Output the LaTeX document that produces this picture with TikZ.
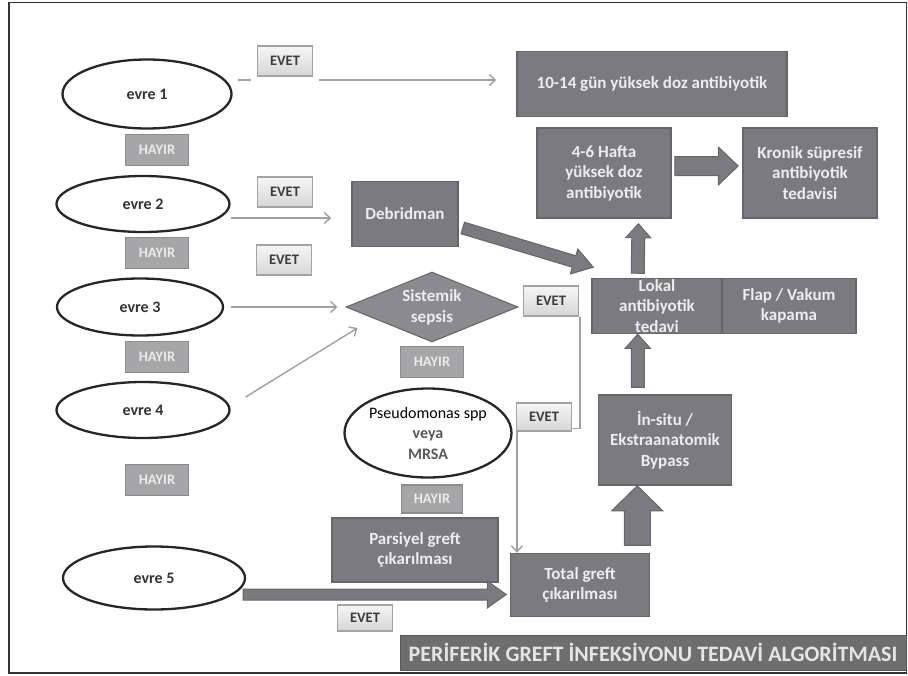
\documentclass[tikz,border=0pt]{standalone}
\usepackage{fontspec}
\setmainfont{Carlito}
\usetikzlibrary{shapes.geometric,arrows.meta,calc}
\pgfdeclarelayer{background}
\pgfsetlayers{background,main}
\definecolor{boxfill}{HTML}{7B7B7F}
\definecolor{boxline}{HTML}{66666A}
\definecolor{boxtext}{HTML}{EDEDED}
\definecolor{hayfill}{HTML}{A6A6A8}
\definecolor{hayline}{HTML}{8C8C8E}
\definecolor{evline}{HTML}{A3A3A3}
\definecolor{evtext}{HTML}{3C3C3C}
\definecolor{conncol}{HTML}{A0A0A0}
\definecolor{diafill}{HTML}{8B8B8F}
\definecolor{titlefill}{HTML}{6E6E71}
\newcommand\fatarrow[5]{%
  \path[fat] ($(#1)!#3!90:(#2)$) -- ($(#2)!#5!(#1)!#3!-90:(#1)$) -- ($(#2)!#5!(#1)!#4!-90:(#1)$) -- (#2)
    -- ($(#2)!#5!(#1)!#4!90:(#1)$) -- ($(#2)!#5!(#1)!#3!90:(#1)$) -- ($(#1)!#3!-90:(#2)$) -- cycle;}
\begin{document}
\begin{tikzpicture}[x=1pt,y=-1pt,
  box/.style={draw=boxline,line width=1.5pt,fill=boxfill,text=boxtext,font=\bfseries\fontsize{17}{20.5}\selectfont,align=center,inner sep=0pt},
  stage/.style={draw=black!85,line width=2.3pt,fill=white,ellipse,inner sep=0pt,text=black!80,font=\bfseries\fontsize{16}{18}\selectfont},
  yes/.style={draw=evline,line width=1.2pt,top color=white!96!black,bottom color=black!16,text=evtext,font=\bfseries\fontsize{14.5}{16}\selectfont,minimum width=55pt,minimum height=30pt,inner sep=0pt},
  no/.style={draw=hayline,line width=1.5pt,fill=hayfill,text=white!92!black,font=\bfseries\fontsize{14.5}{16}\selectfont,minimum width=63pt,minimum height=31pt,inner sep=0pt},
  conn/.style={draw=conncol,line width=1.4pt},
  arr/.style={conn,-{Straight Barb[length=6pt,width=11pt]}},
  fat/.style={fill=boxfill,draw=boxline,line width=1pt}
]
\useasboundingbox (0,0) rectangle (908,675);
\draw[line width=1.2pt,black!80] (9,2.5) rectangle (906.5,673);

% stages
\node[stage,minimum width=169pt,minimum height=69pt] (e1) at (147,94) {evre 1};
\node[stage,minimum width=173pt,minimum height=56pt] (e2) at (143,204) {evre 2};
\node[stage,minimum width=166pt,minimum height=57pt] (e3) at (140,307) {evre 3};
\node[stage,minimum width=173pt,minimum height=56pt] (e4) at (143,410) {evre 4};
\node[stage,minimum width=182pt,minimum height=63pt] (e5) at (154,578) {evre 5};

% HAYIR labels
\node[no] (h1) at (157,150) {HAYIR};
\node[no] (h2) at (157,253) {HAYIR};
\node[no] (h3) at (157,357) {HAYIR};
\node[no] (h4) at (157,480) {HAYIR};
\node[no] (h5) at (432,362) {HAYIR};
\node[no,minimum width=61pt,minimum height=28pt] (h6) at (432,499) {HAYIR};

% EVET labels
\node[yes] (ev1) at (285,61) {EVET};
\node[yes] (ev2) at (285,192) {EVET};
\node[yes] (ev3) at (284,260) {EVET};
\node[yes] (ev4) at (551,301) {EVET};
\node[yes,minimum height=28pt] (ev5) at (544,417) {EVET};
\node[yes,minimum height=26pt] (ev6) at (365,618) {EVET};

% boxes
\node[box,minimum width=270pt,minimum height=65pt] (b1) at (652,84) {10-14 gün yüksek doz antibiyotik};
\node[box,minimum width=134pt,minimum height=90pt] (b2) at (604,173) {4-6 Hafta\\yüksek doz\\antibiyotik};
\node[box,minimum width=134pt,minimum height=90pt] (b3) at (810,173) {Kronik süpresif\\antibiyotik\\tedavisi};
\node[box,minimum width=106pt,minimum height=65pt] (deb) at (405,214) {Debridman};
\node[box,minimum width=130pt,minimum height=55pt] (lok) at (657,306) {Lokal\\antibiyotik\\tedavi};
\node[box,minimum width=134pt,minimum height=55pt] (flap) at (789,306) {Flap / Vakum\\kapama};
\node[box,minimum width=133pt,minimum height=90pt] (byp) at (665,440) {İn-situ /\\Ekstraanatomik\\Bypass};
\node[box,minimum width=166pt,minimum height=64pt] (pars) at (415,550) {Parsiyel greft\\çıkarılması};
\node[box,minimum width=139pt,minimum height=63pt] (total) at (580,585) {Total greft\\çıkarılması};

% decision
\node[diamond,draw=boxline,line width=1pt,fill=diafill,text=boxtext,font=\bfseries\fontsize{17}{21}\selectfont,align=center,
  minimum width=172pt,minimum height=70pt,shape aspect=2.46,inner sep=0pt] (sep) at (432,307) {Sistemik\\sepsis};
\node[stage,minimum width=167pt,minimum height=89pt,align=center,font=\bfseries\fontsize{16}{20.5}\selectfont,text=black!65] (pse) at (428,433)
  {{\mdseries\color{black}Pseudomonas spp}\\veya\\MRSA};

% title
\node[fill=titlefill,draw=black!65,line width=1pt,minimum width=506pt,minimum height=35pt,inner sep=0pt,
  text=white!90!black,font=\bfseries\fontsize{22}{24}\selectfont] (title) at (653,652.5)
  {PERİFERİK GREFT İNFEKSİYONU TEDAVİ ALGORİTMASI};

% thin connectors
\coordinate (c1a) at ($(e1.east)+(5,-14)$);
\coordinate (c1b) at ($(b1.west)+(-20,-4)$);
\coordinate (k) at ($(ev5.south west)+(1,-3)$);
\begin{pgfonlayer}{background}
\draw[conn] (c1a) -- ++(13,0);
\draw[arr] ($(c1a -| ev1.east)+(6,0)$) -- (c1b);
\draw[arr] ($(e2.east)+(0,14)$) -- ($(deb.west)+(-20,4)$);
\draw[arr] ($(e3.east)+(7,0)$) -- ($(sep.west)+(-8,0)$);
\draw[arr] ($(e4.east)+(15,-13)$) -- ($(sep.west)+(12,21)$);
\draw[arr] ($(ev4.south east)+(1,0)$) |- (k) -- (k |- total.north);
\end{pgfonlayer}

% block arrows
\coordinate (f1t) at ($(b2.east)+(3,-7)$);   \coordinate (f1h) at ($(b3.west)+(-4,-7)$);
\coordinate (f2t) at ($(lok.north west)+(46.5,-4.5)$); \coordinate (f2h) at ($(b2.south)+(34.5,5)$);
\coordinate (f3t) at ($(byp.north west)+(40,-7)$); \coordinate (f3h) at ($(lok.south west)+(46.5,0)$);
\coordinate (f4t) at ($(total.north west)+(127.5,-7.5)$); \coordinate (f4h) at ($(byp.south west)+(39.5,0)$);
\coordinate (f5t) at ($(deb.east)+(4,14)$); \coordinate (f5h) at ($(lok.north west)+(2,-10.5)$);
\coordinate (f6t) at ($(e5.east)+(-3,16.5)$); \coordinate (f6h) at ($(total.west)+(-3.5,9.5)$);
\fatarrow{f1t}{f1h}{9.5pt}{19pt}{20pt}
\fatarrow{f2t}{f2h}{6.5pt}{12.5pt}{14pt}
\fatarrow{f3t}{f3h}{6.5pt}{12.5pt}{14pt}
\fatarrow{f4t}{f4h}{13pt}{25.5pt}{25pt}
\fatarrow{f5t}{f5h}{6pt}{13pt}{20pt}
\fatarrow{f6t}{f6h}{5.5pt}{13.5pt}{19pt}
\end{tikzpicture}
\end{document}
